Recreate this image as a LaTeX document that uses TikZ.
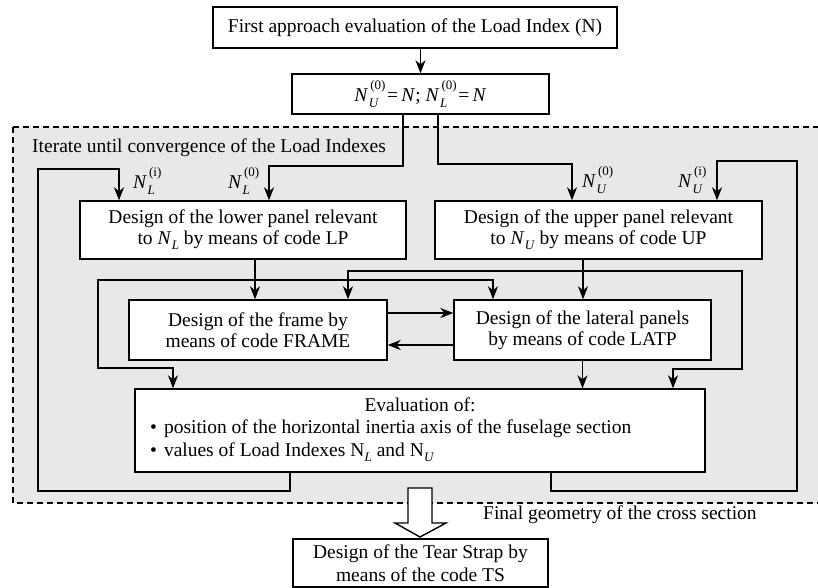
\documentclass[tikz,border=0pt]{standalone}
\usepackage{fontspec}
\setmainfont{Liberation Serif}
\usetikzlibrary{arrows.meta}
\definecolor{bggray}{RGB}{232,232,232}
\newcommand{\NN}[2]{\textit{N}\kern0.5pt\setbox0=\hbox{\fontsize{13}{13}\selectfont(#1)}\setbox2=\hbox{\fontsize{13}{13}\selectfont\textit{#2}}\ifdim\wd0>\wd2 \wd2=\wd0 \fi\rlap{\kern1.5pt\raise11.5pt\box0}\lower6pt\box2}
\newcommand{\Ns}[2]{#1\kern0.3pt\lower5pt\hbox{\fontsize{13}{13}\selectfont\textit{#2}}}
\begin{document}
\begin{tikzpicture}[x=1pt,y=-1pt,
  font=\fontsize{19.5}{21}\selectfont,
  box/.style={draw, fill=white, line width=1.4pt, inner sep=0pt, align=center},
  txt/.style={inner sep=0pt},
  arr/.style={-{Stealth[length=13pt,width=10pt,inset=4pt]}, line width=1.4pt},
  ln/.style={line width=1.4pt}]
\useasboundingbox (0,0) rectangle (818,588);
% iteration region
\draw[fill=bggray, line width=1.2pt, dash pattern=on 6pt off 4pt] (13,127) rectangle (830,503);
\node[txt, anchor=base west] (iter) at (32,153) {Iterate until convergence of the Load Indexes};
\node[txt, anchor=base west] (fin) at (483,519) {Final geometry of the cross section};
% boxes
\node[box, minimum width=404, minimum height=41] (top) at (415,27.5) {First approach evaluation of the Load Index (N)};
\node[box, minimum width=257, minimum height=40] (init) at (420.5,94) {\NN{0}{U}\,=\,\textit{N}; \NN{0}{L}\,=\,\textit{N}};
\node[box, minimum width=326, minimum height=58] (lp) at (243,230) {Design of the lower panel relevant\\to \Ns{\textit{N}}{L} by means of code LP};
\node[box, minimum width=327, minimum height=58] (up) at (598.5,230) {Design of the upper panel relevant\\to \Ns{\textit{N}}{U} by means of code UP};
\node[box, minimum width=258, minimum height=60] (frame) at (258,330) {Design of the frame by\\means of code FRAME};
\node[box, minimum width=257, minimum height=60] (latp) at (582.5,330) {Design of the lateral panels\\by means of code LATP};
\node[box, minimum width=570, minimum height=83] (eval) at (420,430.5) {};
\node[txt, anchor=base] (evt) at (420,411) {Evaluation of:};
\node[txt, anchor=base west] (b1) at (150,433) {\textbullet\hspace{7pt}position of the horizontal inertia axis of the fuselage section};
\node[txt, anchor=base west] (b2) at (150,456) {\textbullet\hspace{7pt}values of Load Indexes \Ns{N}{L} and \Ns{N}{U}};
\node[box, minimum width=255, minimum height=48, font=\fontsize{19.5}{22.5}\selectfont] (ts) at (420.5,563) {Design of the Tear Strap by\\means of the code TS};
% labels
\node[txt, anchor=base west] (lli) at (133,188) {\NN{i}{L}};
\node[txt, anchor=base west] (ll0) at (228,188) {\NN{0}{L}};
\node[txt, anchor=base west] (lu0) at (582,187) {\NN{0}{U}};
\node[txt, anchor=base west] (lui) at (678,187) {\NN{i}{U}};
% coordinates
\coordinate (xa) at (403,166);
\coordinate (nl0) at (269,0);
\coordinate (xb) at (438,164);
\coordinate (nu0) at (572,0);
\coordinate (el) at (290,491);
\coordinate (ll) at (38,491);
\coordinate (nli) at (119,169);
\coordinate (er) at (551,491);
\coordinate (rr) at (797,491);
\coordinate (nui) at (717,161);
\coordinate (lpx) at (255,280);
\coordinate (bl0) at (98,280);
\coordinate (bl) at (98,368);
\coordinate (ev1) at (173,0);
\coordinate (lat1) at (493,0);
\coordinate (upx) at (583,271);
\coordinate (fr1) at (348,0);
\coordinate (br0) at (742,271);
\coordinate (br) at (742,369);
\coordinate (ev2) at (673,0);
\coordinate (h1) at (0,313);
\coordinate (h2) at (0,345);
% connectors
\draw[arr] (top.south -| init.north) -- (init.north);
\draw[arr] (init.south -| xa) -- (xa) -| (lp.north -| nl0);
\draw[arr] (init.south -| xb) -- (xb) -| (up.north -| nu0);
\draw[arr] (eval.south -| el) -- (el) -- (ll) |- (nli) -- (lp.north -| nli);
\draw[arr] (eval.south -| er) -- (er) -- (rr) |- (nui) -- (up.north -| nui);
\draw[arr] (lp.south -| lpx) -- (frame.north -| lpx);
\draw[arr] (lpx) -- (bl0) -- (bl) -| (eval.north -| ev1);
\draw[arr] (lpx) -| (latp.north -| lat1);
\draw[arr] (up.south -| upx) -- (latp.north -| upx);
\draw[arr] (upx) -| (frame.north -| fr1);
\draw[arr] (upx) -- (br0) -- (br) -| (eval.north -| ev2);
\draw[arr] (frame.east |- h1) -- (latp.west |- h1);
\draw[arr] (latp.west |- h2) -- (frame.east |- h2);
\draw[arr] (latp.south) -- (eval.north -| latp.south);
% hollow arrow
\draw[fill=white, line width=1.4pt] (408,488) -- (432,488) -- (432,523) -- (446,523) -- (420,537) -- (395,523) -- (408,523) -- cycle;
\end{tikzpicture}
\end{document}
